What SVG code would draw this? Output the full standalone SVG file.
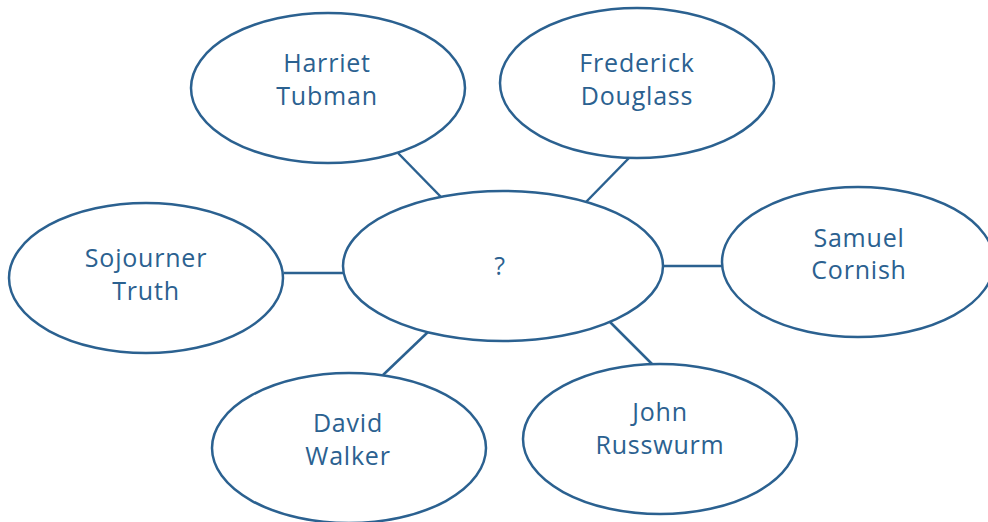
<svg xmlns="http://www.w3.org/2000/svg" width="988" height="522" viewBox="0 0 988 522">
<style>
.n ellipse{fill:#fff;stroke:#2b6190;stroke-width:2.5}
.n text{font-family:"Open Sans","Lato",sans-serif;font-size:25px;letter-spacing:0.8px;fill:#2b6190;text-anchor:middle}
.c line{stroke:#2b6190;stroke-width:2.5}
</style>
<rect width="988" height="522" fill="#fff"/>
<g class="c" id="connectors">
<line x1="398" y1="153" x2="441" y2="197"/>
<line x1="629" y1="158" x2="586" y2="202"/>
<line x1="663" y1="266" x2="723" y2="266"/>
<line x1="284" y1="273" x2="344" y2="273"/>
<line x1="383" y1="375" x2="428" y2="332"/>
<line x1="610" y1="322" x2="652" y2="364"/>
</g>
<g class="n" id="center"><ellipse cx="503" cy="266" rx="160" ry="75"/><text x="500" y="275">?</text></g>
<g class="n" id="harriet"><ellipse cx="328" cy="88" rx="137" ry="75"/><text x="327" y="72">Harriet</text><text x="327" y="105">Tubman</text></g>
<g class="n" id="frederick"><ellipse cx="637" cy="83" rx="137" ry="75"/><text x="637" y="72">Frederick</text><text x="637" y="105">Douglass</text></g>
<g class="n" id="samuel"><ellipse cx="858" cy="262" rx="136" ry="75"/><text x="859" y="247">Samuel</text><text x="859" y="279">Cornish</text></g>
<g class="n" id="sojourner"><ellipse cx="146" cy="278" rx="137" ry="75"/><text x="146" y="267">Sojourner</text><text x="146" y="300">Truth</text></g>
<g class="n" id="david"><ellipse cx="349" cy="448" rx="137" ry="75"/><text x="348" y="432">David</text><text x="348" y="465">Walker</text></g>
<g class="n" id="john"><ellipse cx="660" cy="439" rx="137" ry="75"/><text x="660" y="421">John</text><text x="660" y="454">Russwurm</text></g>
</svg>
